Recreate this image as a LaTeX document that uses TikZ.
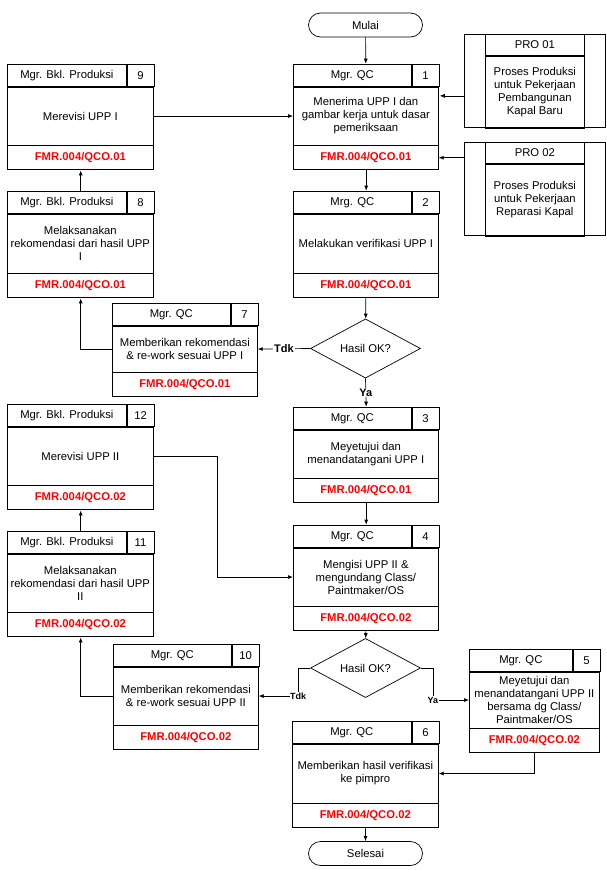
\documentclass[tikz,border=0pt]{standalone}
\usepackage{fontspec}
\setmainfont{Liberation Sans}
\usetikzlibrary{shapes.geometric, arrows.meta, fit}

% box with header, number, body and form code
\newcommand{\qcbox}[9]{%
  \node[hdrcell, minimum width={#4-27}, anchor=north west] (#1h) at (#2,#3) {#6};
  \node[numcell, anchor=north west] (#1n) at (#1h.north east) {#7};
  \node[bodycell, minimum width=#4, minimum height=#5, anchor=north west] (#1b) at (#1h.south west) {#8};
  \node[footcell, minimum width=#4, anchor=north west] (#1f) at (#1b.south west) {#9};
  \node[fit=(#1h)(#1n)(#1f), inner sep=0pt] (#1) {};
}

\begin{document}
\begin{tikzpicture}
  [x=1pt, y=-1pt, >={Latex[length=5pt, width=4pt]}, line width=0.7pt,
   font=\fontsize{11.3}{13}\selectfont,
   cell/.style={draw, inner sep=1pt, align=center},
   hdrcell/.style={cell, minimum height=22},
   numcell/.style={cell, minimum width=27, minimum height=22},
   bodycell/.style={cell},
   footcell/.style={cell, minimum height=24, text=red, font=\fontsize{11.3}{13}\selectfont\bfseries},
   term/.style={draw, rounded corners=12pt, minimum width=114, minimum height=24},
   decide/.style={draw, diamond, inner sep=0pt, minimum width=110, minimum height=40},
   lblbig/.style={fill=white, inner sep=1pt, font=\fontsize{11}{13}\selectfont\bfseries},
   lblsmall/.style={fill=white, inner sep=0.5pt, font=\fontsize{9}{11}\selectfont\bfseries}]

  \useasboundingbox (0,0) rectangle (606,870);

  \node[term] (mulai) at (365.5,25) {Mulai};

  \qcbox{b1}{293}{64}{145}{58}{Mgr. QC}{1}{Menerima UPP I dan\\gambar kerja untuk dasar\\pemeriksaan}{FMR.004/QCO.01}
  \qcbox{b2}{293}{191}{145}{59}{Mrg. QC}{2}{Melakukan verifikasi UPP I}{FMR.004/QCO.01}
  \node[decide] (d1) at (365.5,348.5) {Hasil OK?};
  \qcbox{b3}{293}{407}{145}{48}{Mgr. QC}{3}{Meyetujui dan\\menandatangani UPP I}{FMR.004/QCO.01}
  \qcbox{b4}{293}{525}{145}{58}{Mgr. QC}{4}{Mengisi UPP II \&\\mengundang Class/\\Paintmaker/OS}{FMR.004/QCO.02}
  \node[decide] (d2) at (365.5,668) {Hasil OK?};
  \qcbox{b5}{469}{649}{130}{56}{Mgr. QC}{5}{Meyetujui dan\\menandatangani UPP II\\bersama dg Class/\\Paintmaker/OS}{FMR.004/QCO.02}
  \qcbox{b6}{292}{721}{146}{59}{Mgr. QC}{6}{Memberikan hasil verifikasi\\ke pimpro}{FMR.004/QCO.02}
  \node[term] (selesai) at (365.5,853.5) {Selesai};

  \qcbox{b7}{112}{303}{145}{46}{Mgr. QC}{7}{Memberikan rekomendasi\\\& re-work sesuai UPP I}{FMR.004/QCO.01}
  \qcbox{b8}{7}{191}{146}{59}{Mgr. Bkl. Produksi}{8}{Melaksanakan\\rekomendasi dari hasil UPP\\I}{FMR.004/QCO.01}
  \qcbox{b9}{7}{64}{146}{58}{Mgr. Bkl. Produksi}{9}{Merevisi UPP I}{FMR.004/QCO.01}
  \qcbox{b10}{113}{644}{145}{58}{Mgr. QC}{10}{Memberikan rekomendasi\\\& re-work sesuai UPP II}{FMR.004/QCO.02}
  \qcbox{b11}{7}{531}{146}{58}{Mgr. Bkl. Produksi}{11}{Melaksanakan\\rekomendasi dari hasil UPP\\II}{FMR.004/QCO.02}
  \qcbox{b12}{7}{404}{146}{58}{Mgr. Bkl. Produksi}{12}{Merevisi UPP II}{FMR.004/QCO.02}

  % predefined processes
  \node[draw, minimum width=141, minimum height=93, anchor=north west] (pro1) at (464,34) {};
  \node[hdrcell, minimum width=99, minimum height=21, anchor=north] (pro1h) at (pro1.north) {PRO 01};
  \node[bodycell, minimum width=99, minimum height=72, anchor=north] (pro1b) at (pro1h.south) {Proses Produksi\\untuk Pekerjaan\\Pembangunan\\Kapal Baru};
  \node[draw, minimum width=141, minimum height=93, anchor=north west] (pro2) at (464,142) {};
  \node[hdrcell, minimum width=99, minimum height=21, anchor=north] (pro2h) at (pro2.north) {PRO 02};
  \node[bodycell, minimum width=99, minimum height=72, anchor=north] (pro2b) at (pro2h.south) {Proses Produksi\\untuk Pekerjaan\\Reparasi Kapal};

  % connectors
  \coordinate (pin1) at ([yshift=-15pt]pro1.west);
  \draw[->] (mulai) -- (b1);
  \draw[->] (pin1) -- (pin1 -| b1.east);
  \draw[->] (pro2.west |- b1f.east) -- (b1f.east);
  \draw[->] (b9b.east) -- (b1b.west);
  \draw[->] (b1) -- (b2);
  \draw[->] (b2) -- (d1);
  \draw[->] (d1.west) -- node[lblbig] {Tdk} (b7b.east);
  \draw[->] (d1.south) -- node[lblbig] {Ya} (b3.north);
  \draw[->] (b7b.west) -| (b8.south);
  \draw[->] (b8) -- (b9);
  \draw[->] (b3) -- (b4);
  \draw[->] (b12b.east) -- ++(64,0) |- (b4b.west);
  \draw[->] (b11) -- (b12);
  \draw[->] (b4) -- (d2);
  \draw[->] (d2.west) -- ++(-12,0) |- node[pos=0.5, lblsmall] {Tdk} (b10b.east);
  \draw[->] (b10b.west) -| (b11.south);
  \draw[->] (d2.east) -- ++(12,0) |- node[pos=0.5, lblsmall] {Ya} (b5b.west);
  \draw[->] (b5.south) |- (b6b.east);
  \draw[->] (b6) -- (selesai);
\end{tikzpicture}
\end{document}
